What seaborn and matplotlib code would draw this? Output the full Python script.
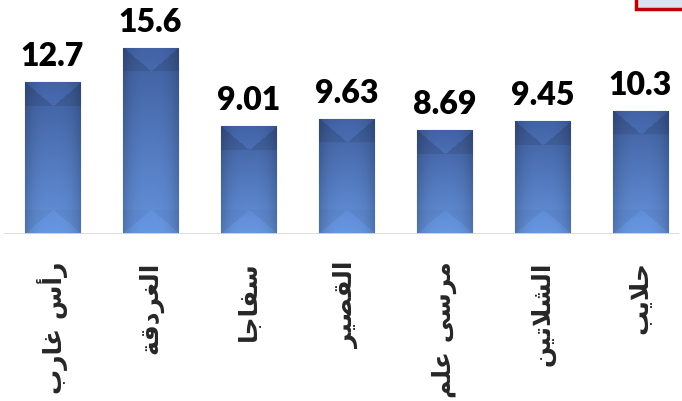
import numpy as np
import pandas as pd
import matplotlib
matplotlib.use('Agg')
import matplotlib.pyplot as plt
import seaborn as sns
from matplotlib.patches import Rectangle
from matplotlib.colors import to_rgb

# data
places = ['رأس غارب', 'الغردقة', 'سفاجا', 'القصير', 'مرسى علم', 'الشلاتين', 'حلايب']
values = [12.7, 15.6, 9.01, 9.63, 8.69, 9.45, 10.3]
value_labels = ['12.7', '15.6', '9.01', '9.63', '8.69', '9.45', '10.3']

# Arabic contextual forms: (isolated, final, initial, medial)
FORMS = {
    'ا': ('\ufe8d', '\ufe8e', None, None),
    'أ': ('\ufe83', '\ufe84', None, None),
    'ب': ('\ufe8f', '\ufe90', '\ufe91', '\ufe92'),
    'ة': ('\ufe93', '\ufe94', None, None),
    'ت': ('\ufe95', '\ufe96', '\ufe97', '\ufe98'),
    'ج': ('\ufe9d', '\ufe9e', '\ufe9f', '\ufea0'),
    'ح': ('\ufea1', '\ufea2', '\ufea3', '\ufea4'),
    'د': ('\ufea9', '\ufeaa', None, None),
    'ر': ('\ufead', '\ufeae', None, None),
    'س': ('\ufeb1', '\ufeb2', '\ufeb3', '\ufeb4'),
    'ش': ('\ufeb5', '\ufeb6', '\ufeb7', '\ufeb8'),
    'ص': ('\ufeb9', '\ufeba', '\ufebb', '\ufebc'),
    'ع': ('\ufec9', '\ufeca', '\ufecb', '\ufecc'),
    'غ': ('\ufecd', '\ufece', '\ufecf', '\ufed0'),
    'ف': ('\ufed1', '\ufed2', '\ufed3', '\ufed4'),
    'ق': ('\ufed5', '\ufed6', '\ufed7', '\ufed8'),
    'ل': ('\ufedd', '\ufede', '\ufedf', '\ufee0'),
    'م': ('\ufee1', '\ufee2', '\ufee3', '\ufee4'),
    'ن': ('\ufee5', '\ufee6', '\ufee7', '\ufee8'),
    'ى': ('\ufeef', '\ufef0', None, None),
    'ي': ('\ufef1', '\ufef2', '\ufef3', '\ufef4'),
    'لا': ('\ufefb', '\ufefc', None, None),
    'لأ': ('\ufef7', '\ufef8', None, None),
}


def shape_arabic(text):
    # join lam-alef pairs first
    chars = []
    i = 0
    while i < len(text):
        if text[i] == 'ل' and i + 1 < len(text) and text[i + 1] in 'اأ':
            chars.append(text[i:i + 2])
            i += 2
        else:
            chars.append(text[i])
            i += 1
    out = []
    for k, c in enumerate(chars):
        f = FORMS.get(c)
        if f is None:
            out.append(c)
            continue
        prev = chars[k - 1] if k > 0 else None
        nxt = chars[k + 1] if k + 1 < len(chars) else None
        join_prev = prev in FORMS and FORMS[prev][2] is not None
        join_next = f[2] is not None and nxt in FORMS
        if join_prev and join_next:
            out.append(f[3])
        elif join_prev:
            out.append(f[1])
        elif join_next:
            out.append(f[2])
        else:
            out.append(f[0])
    # no bidi in matplotlib, so lay it out right to left by hand
    return ''.join(out)[::-1]


df = pd.DataFrame({'place': places, 'value': values})

sns.set_style('white')
plt.rcParams['font.family'] = ['Lato', 'DejaVu Sans']

fig = plt.figure(figsize=(6.82, 4.02), dpi=100)
ax = fig.add_axes([0, 167 / 402, 1, 235 / 402])

sns.barplot(data=df, x='place', y='value', color='#4a6fb5', width=0.57,
            edgecolor='#34569a', linewidth=0.8, ax=ax)

ax.set_xlim(-0.536, 6.423)
ax.set_ylim(0, 19.67)
for s in ax.spines.values():
    s.set_visible(False)
ax.set_yticks([])
ax.set_xlabel('')
ax.set_ylabel('')
ax.axhline(0, xmin=0.006, xmax=0.994, color='#d9d9d9', lw=2, zorder=5)

ax.set_xticks(range(len(places)))
ax.set_xticklabels([shape_arabic(p) for p in places], rotation=90,
                   family='DejaVu Sans', fontweight='bold', fontsize=18,
                   va='top', ha='center')
ax.tick_params(axis='x', length=0, pad=19)

# bevelled gradient fill for each bar
fig.canvas.draw()
top_c = np.array(to_rgb('#3f5e9e'))
bot_c = np.array(to_rgb('#6593dc'))
for p in ax.patches:
    bb = p.get_window_extent()
    W = max(int(round(bb.width)), 2)
    H = max(int(round(bb.height)), 2)
    rr, cc = np.mgrid[0:H, 0:W].astype(float)
    t = (rr / (H - 1))[..., None]
    img = top_c * (1 - t) + bot_c * t
    u = np.abs(cc / (W - 1) - 0.5) * 2
    img = img * (1 - 0.18 * u ** 3)[..., None]
    half = W / 2 - np.abs(cc - W / 2)
    depth = 0.85 * (W / 2)
    top_band = rr < depth
    inside_top = rr < 0.85 * half
    img[top_band & ~inside_top] *= 0.9
    img[inside_top] *= 1.05
    rb = H - 1 - rr
    bot_band = rb < depth
    inside_bot = rb < 0.85 * half
    img[bot_band & ~inside_bot] *= 0.97
    img[inside_bot] *= 1.03
    img = np.clip(img, 0, 1)
    x0, y0 = p.get_x(), p.get_y()
    im = ax.imshow(img, extent=[x0, x0 + p.get_width(), y0, y0 + p.get_height()],
                   aspect='auto', zorder=p.get_zorder() + 0.1, interpolation='bilinear')
    im.set_clip_path(p)

# value labels above bars
for i, (v, lab) in enumerate(zip(values, value_labels)):
    ax.annotate(lab, (i, v), xytext=(0, 12.2), textcoords='offset points',
                ha='center', va='baseline', fontsize=23, fontweight='heavy',
                color='black', annotation_clip=False)

# cut-off legend box in the top-right corner
fig.add_artist(Rectangle((636 / 682, 1 - 9.5 / 402), 0.1, 0.1,
                         transform=fig.transFigure, facecolor='#dbe3f3',
                         edgecolor='#c00000', lw=2.5, clip_on=False))

fig.savefig('out.png', dpi=100)
